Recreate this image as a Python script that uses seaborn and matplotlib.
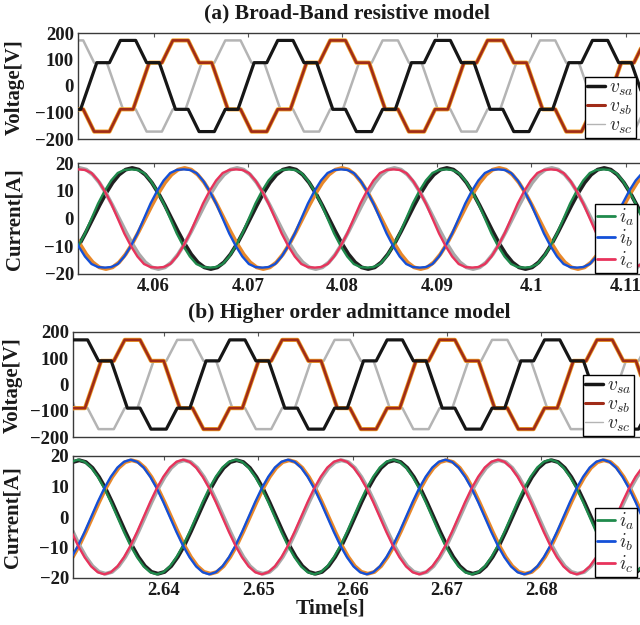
import numpy as np
import pandas as pd
import matplotlib
matplotlib.use("Agg")
import matplotlib.pyplot as plt
import seaborn as sns
from matplotlib.lines import Line2D

# supply frequency [Hz]
F_SUPPLY = 60.0

# one electrical cycle of the six-step phase voltage: vertex angle [deg] and level [V]
V_DEG = [-18.5, 18.5, 47.5, 72.5, 107.5, 132.5, 161.5, 198.5, 227.5, 252.5, 287.5, 312.5]
V_LEVELS_A = [-88, 88, 88, 172, 172, 88, 88, -88, -88, -172, -172, -88]
V_LEVELS_B = [-90, 90, 90, 170, 170, 90, 90, -90, -90, -170, -170, -90]

# one cycle of the phase current, every 15 deg (peak at 90 deg) [A]
I_DEG = [0, 15, 30, 45, 60, 75, 90, 105, 120, 135, 150, 165,
         180, 195, 210, 225, 240, 255, 270, 285, 300, 315, 330, 345]
I_MEAS_A = [0.0, 5.4, 9.9, 13.7, 16.4, 17.5, 17.7, 17.5, 16.4, 13.7, 9.9, 5.4,
            0.0, -5.4, -9.9, -13.7, -16.4, -17.5, -17.7, -17.5, -16.4, -13.7, -9.9, -5.4]
I_REF_A = [0.0, 4.7, 9.1, 12.9, 15.8, 17.6, 18.2, 17.6, 15.8, 12.9, 9.1, 4.7,
           0.0, -4.7, -9.1, -12.9, -15.8, -17.6, -18.2, -17.6, -15.8, -12.9, -9.1, -4.7]
I_MEAS_B = [0.0, 4.9, 9.4, 13.2, 16.2, 18.1, 18.8, 18.1, 16.2, 13.2, 9.4, 4.9,
            0.0, -4.9, -9.4, -13.2, -16.2, -18.1, -18.8, -18.1, -16.2, -13.2, -9.4, -4.9]
I_REF_B = [0.0, 4.8, 9.3, 13.1, 16.1, 18.0, 18.6, 18.0, 16.1, 13.1, 9.3, 4.8,
           0.0, -4.8, -9.3, -13.1, -16.1, -18.0, -18.6, -18.0, -16.1, -13.1, -9.3, -4.8]

# phase lag of each phase relative to phase a [deg]
PHASE_LAG = {"a": 0.0, "b": 120.0, "c": 240.0}
# lag of the reference current behind the measured one [deg]
REF_LAG = 3.0

# instant of the phase-a peak (90 deg) in each window [s]
T_VPEAK_A, T_IPEAK_A = 4.0573, 4.0576
T_VPEAK_B, T_IPEAK_B = 2.6478, 2.6476

# time windows and ticks
XLIM_A = (4.0520, 4.1128)
XLIM_B = (2.6304, 2.6917)
XTICKS_A = [4.06, 4.07, 4.08, 4.09, 4.10, 4.11]
XTICKLABELS_A = ["4.06", "4.07", "4.08", "4.09", "4.1", "4.11"]
XTICKS_B = [2.64, 2.65, 2.66, 2.67, 2.68]
XTICKLABELS_B = ["2.64", "2.65", "2.66", "2.67", "2.68"]
V_TICKS = [-200, -100, 0, 100, 200]
I_TICKS = [-20, -10, 0, 10, 20]

TITLE_A = "(a) Broad-Band resistive model"
TITLE_B = "(b) Higher order admittance model"
V_LABELS = [r"$v_{sa}$", r"$v_{sb}$", r"$v_{sc}$"]
I_LABELS = [r"$i_{a}$", r"$i_{b}$", r"$i_{c}$"]


def periodic_trace(deg, vals, t_peak, lag, window):
    """Repeat one cycle of vertices over the time window."""
    period = 1.0 / F_SUPPLY
    deg = np.asarray(deg, float)
    vals = np.asarray(vals, float)
    ts, vs = [], []
    k0 = int(np.floor((window[0] - t_peak) / period)) - 2
    for k in range(k0, k0 + 8):
        ts.append(t_peak + ((deg - 90.0 + lag) / 360.0 + k) * period)
        vs.append(vals)
    t = np.concatenate(ts)
    v = np.concatenate(vs)
    keep = (t > window[0] - period / 3) & (t < window[1] + period / 3)
    return pd.DataFrame({"t": t[keep], "v": v[keep]})


def draw(ax, df, color, lw, z):
    sns.lineplot(data=df, x="t", y="v", ax=ax, color=color, linewidth=lw,
                 estimator=None, sort=False, zorder=z, legend=False)


sns.set_theme(style="white")
plt.rcParams["font.family"] = ["Liberation Serif", "DejaVu Serif"]
plt.rcParams["font.weight"] = "bold"
plt.rcParams["mathtext.fontset"] = "cm"

W, H = 640, 625
fig = plt.figure(figsize=(W / 100, H / 100), dpi=100)


def add_axes(left, top, bottom, right=652):
    return fig.add_axes([left / W, 1 - bottom / H, (right - left) / W, (bottom - top) / H])


ax_va = add_axes(78, 33, 139)
ax_ia = add_axes(78, 163, 274)
ax_vb = add_axes(73, 332, 437)
ax_ib = add_axes(73, 456, 578)

V_BLACK = "#161616"
V_ORANGE = "#f0a028"
V_BROWN = "#a02c18"
V_GRAY = "#b4b4b4"
I_GREEN = "#1f8a4c"
I_BLUE = "#1450d8"
I_RED = "#e8335c"
R_BLACK = "#202020"
R_ORANGE = "#e8882a"
R_GRAY = "#a8a8a8"


def add_legend(ax, handles, labels, left_px, bottom_px):
    ax.legend(handles, labels, loc="lower left",
              bbox_to_anchor=(left_px / W, 1 - bottom_px / H),
              bbox_transform=fig.transFigure,
              fontsize=14, frameon=True, fancybox=False, edgecolor="black",
              framealpha=1, handlelength=0.9, handletextpad=0.2,
              labelspacing=0.0, borderpad=0.12, borderaxespad=0.0)
    ax.get_legend().get_frame().set_linewidth(1.0)


def voltage_panel(ax, levels, t_peak, window, leg_left, leg_bottom):
    va = periodic_trace(V_DEG, levels, t_peak, PHASE_LAG["a"], window)
    vb = periodic_trace(V_DEG, levels, t_peak, PHASE_LAG["b"], window)
    vc = periodic_trace(V_DEG, levels, t_peak, PHASE_LAG["c"], window)
    draw(ax, vc, V_GRAY, 1.8, 2)
    draw(ax, vb, V_ORANGE, 3.0, 3)
    draw(ax, vb, V_BROWN, 1.9, 4)
    draw(ax, va, V_BLACK, 2.3, 5)
    ax.set_ylim(-200, 200)
    ax.set_yticks(V_TICKS)
    ax.set_yticklabels([str(v).replace("-", "\u2212") for v in V_TICKS])
    handles = [Line2D([], [], color=V_BLACK, lw=2.5),
               Line2D([], [], color=V_BROWN, lw=2.2),
               Line2D([], [], color=V_GRAY, lw=1.0)]
    add_legend(ax, handles, V_LABELS, leg_left, leg_bottom)


def current_panel(ax, meas, ref, t_peak, window, leg_left, leg_bottom):
    for ph, c_ref, c_meas in (("a", R_BLACK, I_GREEN), ("b", R_ORANGE, I_BLUE),
                              ("c", R_GRAY, I_RED)):
        r = periodic_trace(I_DEG, ref, t_peak, PHASE_LAG[ph] + REF_LAG, window)
        m = periodic_trace(I_DEG, meas, t_peak, PHASE_LAG[ph], window)
        draw(ax, r, c_ref, 2.8, 2)
        draw(ax, m, c_meas, 1.7, 4)
    ax.set_ylim(-20, 20)
    ax.set_yticks(I_TICKS)
    ax.set_yticklabels([str(v).replace("-", "\u2212") for v in I_TICKS])
    handles = [Line2D([], [], color=I_GREEN, lw=2.0),
               Line2D([], [], color=I_BLUE, lw=2.0),
               Line2D([], [], color=I_RED, lw=2.0)]
    add_legend(ax, handles, I_LABELS, leg_left, leg_bottom)


voltage_panel(ax_va, V_LEVELS_A, T_VPEAK_A, XLIM_A, 585, 138)
current_panel(ax_ia, I_MEAS_A, I_REF_A, T_IPEAK_A, XLIM_A, 595, 273)
voltage_panel(ax_vb, V_LEVELS_B, T_VPEAK_B, XLIM_B, 583, 436)
current_panel(ax_ib, I_MEAS_B, I_REF_B, T_IPEAK_B, XLIM_B, 595, 577)

for ax, xl, xt, xtl, show in ((ax_va, XLIM_A, XTICKS_A, XTICKLABELS_A, False),
                              (ax_ia, XLIM_A, XTICKS_A, XTICKLABELS_A, True),
                              (ax_vb, XLIM_B, XTICKS_B, XTICKLABELS_B, False),
                              (ax_ib, XLIM_B, XTICKS_B, XTICKLABELS_B, True)):
    ax.set_xlim(*xl)
    ax.set_xticks(xt)
    ax.set_xticklabels(xtl if show else [])
    ax.set_xlabel("")
    ax.set_ylabel("")
    ax.tick_params(direction="in", length=3, width=0.8, color="#555555",
                   top=True, right=True, labelsize=13.5, pad=3)
    for lab in ax.get_xticklabels() + ax.get_yticklabels():
        lab.set_fontweight("bold")
        lab.set_color("#1a1a1a")
    for s in ax.spines.values():
        s.set_color("#3a3a3a")
        s.set_linewidth(1.0)

label_kw = dict(fontsize=15, fontweight="bold", color="#1a1a1a",
                rotation=90, ha="center", va="center")
fig.text(15 / W, 1 - 87 / H, "Voltage[V]", **label_kw)
fig.text(15 / W, 1 - 219 / H, "Current[A]", **label_kw)
fig.text(13 / W, 1 - 385 / H, "Voltage[V]", **label_kw)
fig.text(13 / W, 1 - 517 / H, "Current[A]", **label_kw)

title_kw = dict(fontsize=15.5, fontweight="bold", color="#1a1a1a", ha="center", va="center")
fig.text(347 / W, 1 - 13 / H, TITLE_A, **title_kw)
fig.text(349 / W, 1 - 313 / H, TITLE_B, **title_kw)
fig.text(330 / W, 1 - 609 / H, "Time[s]", **title_kw)

fig.savefig("out.png", dpi=100)
